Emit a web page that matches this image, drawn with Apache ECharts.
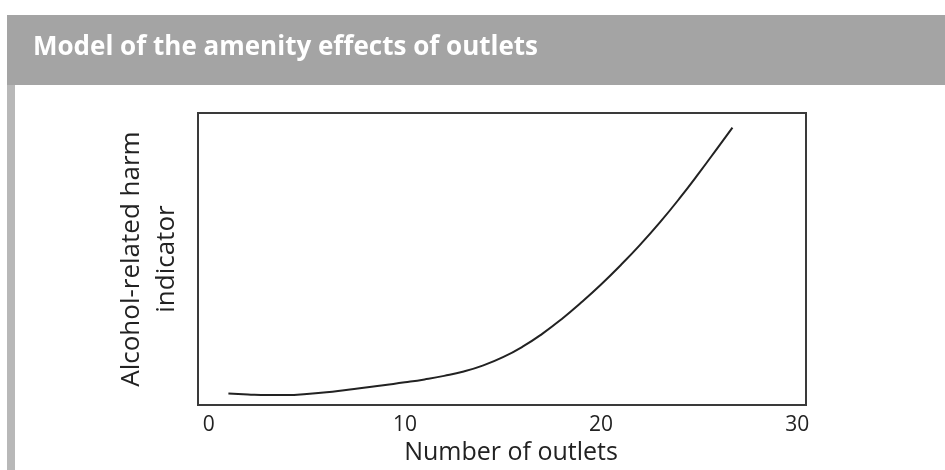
<!DOCTYPE html>
<html>
<head>
<meta charset="utf-8">
<script src="https://cdn.jsdelivr.net/npm/echarts@6/dist/echarts.min.js"></script>
<style>
html,body{margin:0;padding:0;background:#fff;}
#chart{width:945px;height:470px;}
</style>
</head>
<body>
<div id="chart"></div>
<script>
var titleText = 'Model of the amenity effects of outlets';
var xAxisName = 'Number of outlets';
var yAxisName = 'Alcohol-related harm\nindicator';
var xTickValues = [0, 10, 20, 30];
var outlets = [1, 2, 3, 4, 5, 6, 7, 8, 9, 10, 11, 12, 13, 14, 15, 16, 17, 18, 19, 20, 21, 22, 23, 24, 25, 26, 26.7];
var harm = [4.0, 3.65, 3.45, 3.45, 3.8, 4.4, 5.2, 6.0, 6.9, 7.8, 8.8, 10.0, 11.5, 13.6, 16.4, 20.0, 24.4, 29.5, 35.2, 41.3, 47.9, 54.95, 62.55, 70.75, 79.5, 88.6, 95.0];

var seriesData = outlets.map(function (x, i) { return [x, harm[i]]; });
var font = '"Open Sans", "Noto Sans", sans-serif';

var chart = echarts.init(document.getElementById('chart'), null, {renderer: 'canvas'});
chart.setOption({
  animation: false,
  backgroundColor: '#ffffff',
  graphic: [
    {type: 'rect', shape: {x: 7, y: 15, width: 938, height: 70}, style: {fill: '#a4a4a4'}, z: 0},
    {type: 'rect', shape: {x: 7, y: 85, width: 8, height: 385}, style: {fill: '#b8b8b8'}, z: 0}
  ],
  title: {
    text: titleText,
    left: 28,
    top: 30,
    textStyle: {color: '#ffffff', fontFamily: font, fontWeight: 'bold', fontSize: 26}
  },
  grid: {
    left: 198, right: 139, top: 113, bottom: 63,
    show: true, borderColor: '#3a3a3a', borderWidth: 2, backgroundColor: '#ffffff'
  },
  xAxis: {
    type: 'value',
    min: -0.55,
    max: 30.45,
    axisLine: {show: false},
    axisTick: {show: false},
    splitLine: {show: false},
    axisLabel: {
      customValues: xTickValues,
      color: '#222', fontFamily: font, fontSize: 21, margin: 9
    },
    name: xAxisName,
    nameLocation: 'middle',
    nameGap: 29,
    nameTextStyle: {color: '#222', fontFamily: font, fontSize: 25, padding: [0, 0, 0, 18]}
  },
  yAxis: {
    type: 'value',
    min: 0,
    max: 100,
    axisLine: {show: false},
    axisTick: {show: false},
    splitLine: {show: false},
    axisLabel: {show: false},
    name: yAxisName,
    nameLocation: 'middle',
    nameGap: 14,
    nameTextStyle: {color: '#222', fontFamily: font, fontSize: 26, lineHeight: 35}
  },
  series: [{
    type: 'line',
    data: seriesData,
    smooth: true,
    showSymbol: false,
    lineStyle: {color: '#222', width: 2}
  }]
});
</script>
</body>
</html>
